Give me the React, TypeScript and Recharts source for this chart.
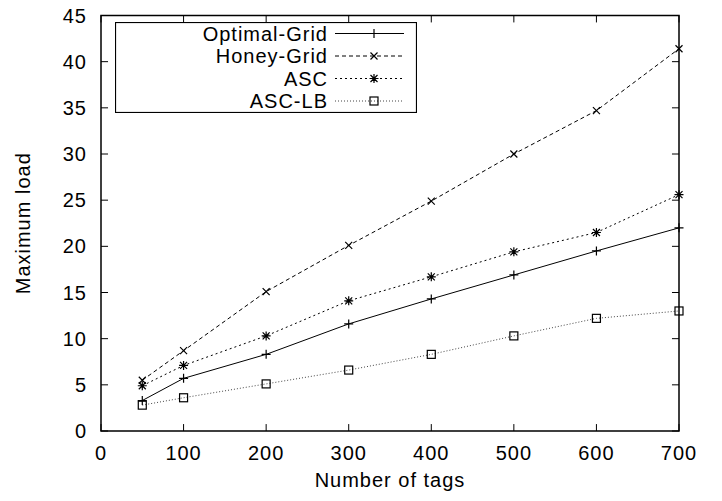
import React from 'react';
import {
  LineChart,
  Line,
  XAxis,
  YAxis,
  Legend,
  Label,
  ReferenceArea,
  ReferenceLine
} from 'recharts';

const tags = [50, 100, 200, 300, 400, 500, 600, 700];
const optimalGrid = [3.3, 5.7, 8.3, 11.6, 14.3, 16.9, 19.5, 22.0];
const honeyGrid = [5.5, 8.7, 15.1, 20.1, 24.9, 30.0, 34.7, 41.4];
const asc = [4.9, 7.1, 10.3, 14.1, 16.7, 19.4, 21.5, 25.6];
const ascLb = [2.8, 3.6, 5.1, 6.6, 8.3, 10.3, 12.2, 13.0];

const xTicks = [0, 100, 200, 300, 400, 500, 600, 700];
const yTicks = [0, 5, 10, 15, 20, 25, 30, 35, 40, 45];

const FONT = '"Liberation Sans", Arial, Helvetica, sans-serif';

type MarkerKind = 'plus' | 'cross' | 'star' | 'square';

const series: { key: string; name: string; marker: MarkerKind; dash?: string; stroke: string }[] = [
  { key: 'og', name: 'Optimal-Grid', marker: 'plus', stroke: '#000' },
  { key: 'hg', name: 'Honey-Grid', marker: 'cross', dash: '4 3', stroke: '#000' },
  { key: 'asc', name: 'ASC', marker: 'star', dash: '2 3', stroke: '#000' },
  { key: 'lb', name: 'ASC-LB', marker: 'square', dash: '1 2', stroke: '#444' }
];

const data = tags.map((n, i) => ({
  n,
  og: optimalGrid[i],
  hg: honeyGrid[i],
  asc: asc[i],
  lb: ascLb[i]
}));

const Marker = ({ kind, cx, cy }: { kind: MarkerKind; cx: number; cy: number }) => {
  const s = 4.5;
  const d = 3.5;
  const plus = `M${cx - s},${cy}H${cx + s}M${cx},${cy - s}V${cy + s}`;
  const cross = `M${cx - d},${cy - d}L${cx + d},${cy + d}M${cx - d},${cy + d}L${cx + d},${cy - d}`;
  if (kind === 'square') {
    return <rect x={cx - 4} y={cy - 4} width={8} height={8} fill="none" stroke="#000" strokeWidth={1.2} />;
  }
  const path = kind === 'plus' ? plus : kind === 'cross' ? cross : plus + cross;
  return <path d={path} stroke="#000" strokeWidth={1.2} fill="none" />;
};

const LegendBox = () => (
  <svg width={302} height={91} style={{ display: 'block' }}>
    <rect x={0.5} y={0.5} width={301} height={90} fill="#fff" stroke="#000" strokeWidth={1.2} />
    {series.map((s, i) => {
      const y = 11.5 + i * 22.5;
      return (
        <g key={s.key}>
          <text
            x={213}
            y={y}
            textAnchor="end"
            dominantBaseline="central"
            fontFamily={FONT}
            fontSize={20}
            letterSpacing={1}
            fill="#000"
          >
            {s.name}
          </text>
          <line x1={220} x2={289} y1={y} y2={y} stroke={s.stroke} strokeDasharray={s.dash} strokeWidth={1} />
          <Marker kind={s.marker} cx={259} cy={y} />
        </g>
      );
    })}
  </svg>
);

const tickStyle = { fill: '#000', fontSize: 20, fontFamily: FONT, letterSpacing: 1 };

export default function App() {
  return (
    <div style={{ position: 'absolute', left: 0, top: 0, background: '#fff' }}>
      <LineChart
        width={722}
        height={501}
        data={data}
        margin={{ top: 15.5, right: 43, left: 41, bottom: 0 }}
      >
        <XAxis
          dataKey="n"
          type="number"
          domain={[0, 700]}
          ticks={xTicks}
          interval={0}
          axisLine={false}
          tickLine={false}
          tickSize={0}
          tickMargin={15}
          height={70}
          tick={tickStyle}
        >
          <Label
            value="Number of tags"
            position="insideBottom"
            offset={14}
            style={{ fill: '#000', fontSize: 20, fontFamily: FONT, letterSpacing: 1 }}
          />
        </XAxis>
        <YAxis
          type="number"
          domain={[0, 45]}
          ticks={yTicks}
          interval={0}
          axisLine={false}
          tickLine={false}
          tickSize={0}
          tickMargin={14}
          width={60}
          tick={tickStyle}
        >
          <Label
            content={({ viewBox }: any) => {
              const cx = viewBox.x - 18;
              const cy = viewBox.y + viewBox.height / 2;
              return (
                <text
                  x={cx}
                  y={cy}
                  transform={`rotate(-90 ${cx} ${cy})`}
                  textAnchor="middle"
                  dominantBaseline="central"
                  fontFamily={FONT}
                  fontSize={20}
                  letterSpacing={1}
                  fill="#000"
                >
                  Maximum load
                </text>
              );
            }}
          />
        </YAxis>

        {/* inward ticks on all four sides */}
        {xTicks.map((v) => (
          <ReferenceLine key={`xb${v}`} segment={[{ x: v, y: 0 }, { x: v, y: 0.75 }]} stroke="#000" strokeWidth={1} />
        ))}
        {xTicks.map((v) => (
          <ReferenceLine key={`xt${v}`} segment={[{ x: v, y: 45 }, { x: v, y: 44.25 }]} stroke="#000" strokeWidth={1} />
        ))}
        {yTicks.map((v) => (
          <ReferenceLine key={`yl${v}`} segment={[{ x: 0, y: v }, { x: 8.5, y: v }]} stroke="#000" strokeWidth={1} />
        ))}
        {yTicks.map((v) => (
          <ReferenceLine key={`yr${v}`} segment={[{ x: 700, y: v }, { x: 691.5, y: v }]} stroke="#000" strokeWidth={1} />
        ))}
        <ReferenceArea x1={0} x2={700} y1={0} y2={45} fill="none" stroke="#000" strokeWidth={1.5} />

        {series.map((s) => (
          <Line
            key={s.key}
            dataKey={s.key}
            name={s.name}
            type="linear"
            stroke={s.stroke}
            strokeWidth={1}
            strokeDasharray={s.dash}
            isAnimationActive={false}
            dot={(p: any) => <Marker key={`${s.key}-${p.index}`} kind={s.marker} cx={p.cx} cy={p.cy} />}
            activeDot={false}
          />
        ))}

        <Legend
          layout="horizontal"
          verticalAlign="middle"
          content={() => <LegendBox />}
          wrapperStyle={{ position: 'absolute', left: 115, top: 22, width: 302, height: 91 }}
        />
      </LineChart>
    </div>
  );
}
